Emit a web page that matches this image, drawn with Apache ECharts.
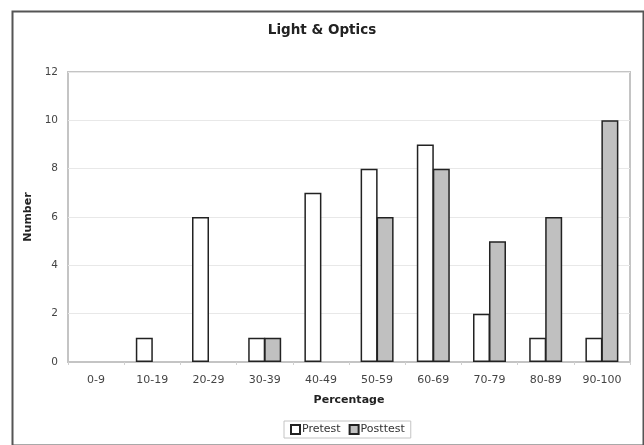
<!DOCTYPE html>
<html>
<head>
<meta charset="utf-8">
<script src="https://cdn.jsdelivr.net/npm/echarts@6/dist/echarts.min.js"></script>
<style>
html,body{margin:0;padding:0;background:#fff;}
#chart{width:644px;height:445px;}
</style>
</head>
<body>
<div id="chart"></div>
<script>
var categories = ['0-9','10-19','20-29','30-39','40-49','50-59','60-69','70-79','80-89','90-100'];
var pretest = [0,1,6,1,7,8,9,2,1,1];
var posttest = [0,0,0,1,0,6,8,5,6,10];
var yTicks = [0,2,4,6,8,10,12];

var FONT = 'DejaVu Sans';
function nz(arr){ return arr.map(function(v){ return v === 0 ? null : v; }); }

var chart = echarts.init(document.getElementById('chart'), null, {renderer:'canvas'});
chart.setOption({
  backgroundColor:'#ffffff',
  animation:false,
  title:{
    text:'Light & Optics',
    left:'center', top:18,
    textStyle:{fontFamily:FONT, fontSize:13.5, fontWeight:'bold', color:'#222'}
  },
  graphic:[{
    type:'rect', left:10, top:9, z:-1,
    shape:{width:631, height:434},
    style:{fill:null, stroke:'#555', lineWidth:2}
  }],
  grid:{left:68, right:14, top:72, height:290, show:true, borderColor:'#c4c4c4', borderWidth:2, backgroundColor:'transparent'},
  legend:{
    data:['Pretest','Posttest'],
    left:284, top:421,
    itemWidth:9, itemHeight:9, itemGap:8,
    icon:'rect',
    padding:[3,6,3,6],
    borderColor:'#c4c4c4', borderWidth:1,
    textStyle:{fontFamily:FONT, fontSize:11, color:'#333', padding:[0,0,0,-3]}
  },
  xAxis:{
    type:'category', data:categories,
    name:'Percentage', nameLocation:'middle', nameGap:33,
    nameTextStyle:{fontFamily:FONT, fontSize:11, fontWeight:'bold', color:'#222'},
    axisLine:{show:true, lineStyle:{color:'#c4c4c4', width:2}},
    axisTick:{show:true, length:3, lineStyle:{color:'#d0d0d0'}},
    axisLabel:{fontFamily:FONT, fontSize:11, color:'#444', margin:13}
  },
  yAxis:{
    type:'value', min:0, max:12, interval:2,
    name:'Number', nameLocation:'middle', nameGap:32,
    nameTextStyle:{fontFamily:FONT, fontSize:11, fontWeight:'bold', color:'#222'},
    axisLine:{show:false},
    axisTick:{show:false},
    axisLabel:{fontFamily:FONT, fontSize:10.5, color:'#444', margin:10},
    splitLine:{show:true, lineStyle:{color:'#e8e8e8', width:1}}
  },
  series:[
    {name:'Pretest', type:'bar', data:nz(pretest), barWidth:17, barGap:'-6%',
     itemStyle:{color:'#ffffff', borderColor:'#222', borderWidth:1.5}},
    {name:'Posttest', type:'bar', data:nz(posttest), barWidth:17,
     itemStyle:{color:'#c0c0c0', borderColor:'#222', borderWidth:1.5}}
  ]
});
</script>
</body>
</html>
